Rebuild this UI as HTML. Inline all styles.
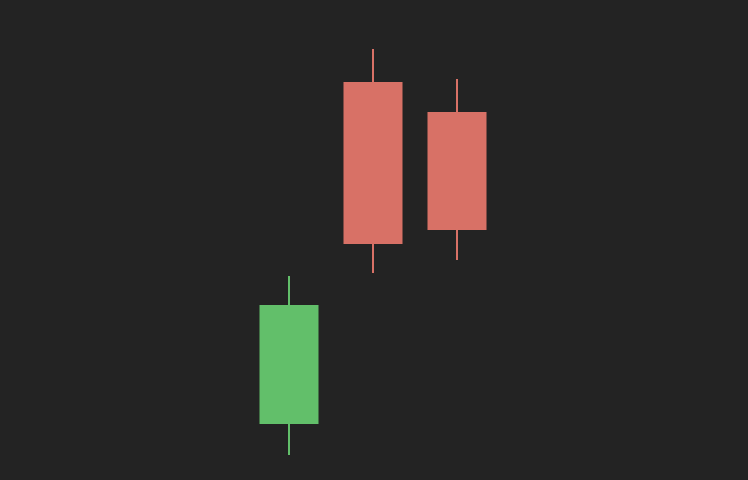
<!DOCTYPE html>
<html><head><meta charset="utf-8"><style>
html,body{margin:0;padding:0;background:#232323;}
svg{display:block;}
</style></head><body>
<svg id="chart" width="748" height="480"></svg>
<script>
const categories = ["c1", "c2", "c3"];
const opens  = [11.5, 97, 89.5];
const closes = [41.25, 56.5, 60];
const highs  = [48.5, 105.25, 97.75];
const lows   = [3.75, 49.25, 52.5];

const svg = document.getElementById('chart');
const NS = 'http://www.w3.org/2000/svg';
function xScale(i){ return 289 + i * 84; }
function yScale(v){ return 470 - v * 4; }
const bodyW = 59;

categories.forEach(function(c, i){
  const up = closes[i] >= opens[i];
  const col = up ? '#62bf6a' : '#d87166';
  const cx = xScale(i);
  const g = document.createElementNS(NS, 'g');
  
  
  const wick = document.createElementNS(NS, 'line');
  
  
  wick.setAttribute('x1', cx); wick.setAttribute('x2', cx);
  wick.setAttribute('y1', yScale(highs[i])); wick.setAttribute('y2', yScale(lows[i]));
  wick.setAttribute('stroke', col); wick.setAttribute('stroke-width', 2);
  g.appendChild(wick);
  const top = yScale(Math.max(opens[i], closes[i]));
  const bot = yScale(Math.min(opens[i], closes[i]));
  const r = document.createElementNS(NS, 'rect');
  
  
  r.setAttribute('x', cx - bodyW / 2); r.setAttribute('y', top);
  r.setAttribute('width', bodyW); r.setAttribute('height', bot - top);
  r.setAttribute('fill', col);
  g.appendChild(r);
  svg.appendChild(g);
});
</script>
</body></html>
